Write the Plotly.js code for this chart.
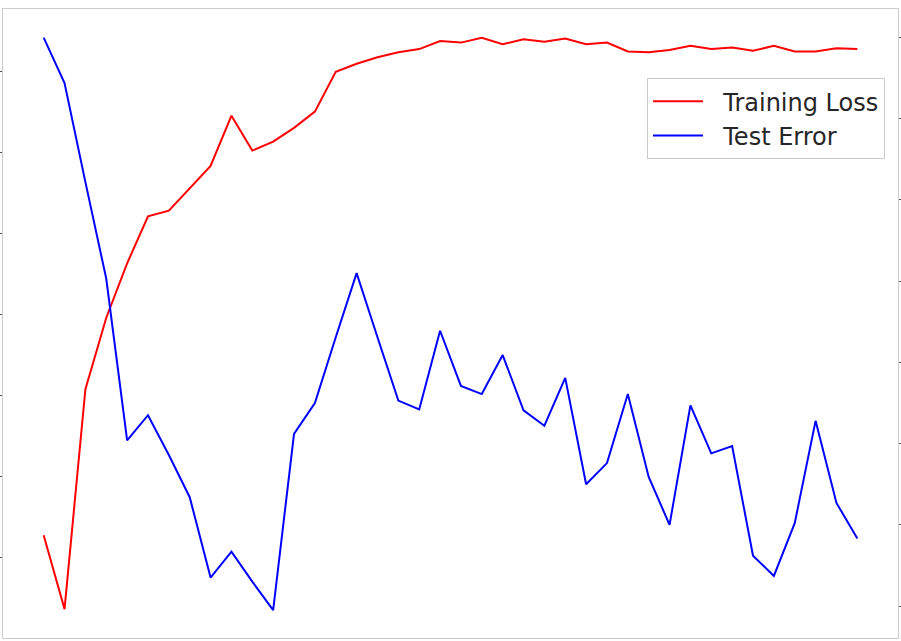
<!DOCTYPE html>
<html>
<head>
<meta charset="utf-8">
<script src="https://cdn.plot.ly/plotly-3.0.1.min.js"></script>
<style>html,body{margin:0;padding:0;background:#fff;}#chart{width:901px;height:641px;}</style>
</head>
<body>
<div id="chart"></div>
<script>
const epochs = Array.from({length: 40}, (_, i) => i);
const trainingLoss = [1.28,0.37,3.08,3.96,4.63,5.21,5.28,5.56,5.83,6.45,6.02,6.13,6.30,6.50,6.99,7.09,7.17,7.23,7.27,7.37,7.35,7.41,7.33,7.39,7.36,7.40,7.33,7.35,7.24,7.23,7.26,7.31,7.27,7.29,7.25,7.31,7.24,7.24,7.28,7.27];
const testError = [8.00,7.44,6.22,5.03,3.04,3.35,2.86,2.34,1.35,1.67,1.30,0.95,3.12,3.50,4.31,5.10,4.31,3.53,3.42,4.39,3.71,3.61,4.09,3.41,3.22,3.81,2.50,2.76,3.61,2.59,2.00,3.47,2.88,2.97,1.62,1.37,2.02,3.28,2.27,1.83];
const seriesNames = ["Training Loss", "Test Error"];
const gap = '\u00a0\u00a0';

const traces = [
  {x: epochs, y: trainingLoss, name: gap + seriesNames[0], type: 'scatter', mode: 'lines',
   line: {color: '#ff0000', width: 2}, yaxis: 'y'},
  {x: epochs, y: testError, name: gap + seriesNames[1], type: 'scatter', mode: 'lines',
   line: {color: '#0000ff', width: 2}, yaxis: 'y2'}
];

const layout = {
  width: 901, height: 641,
  margin: {l: 3, r: 3, t: 9, b: 3, pad: 0},
  paper_bgcolor: '#ffffff', plot_bgcolor: '#ffffff',
  font: {family: 'DejaVu Sans', color: '#262626'},
  showlegend: true,
  xaxis: {range: [-1.95, 40.95], showgrid: false, zeroline: false, showticklabels: false,
          ticks: '', showline: true, mirror: true, linecolor: '#cccccc', linewidth: 1},
  yaxis: {range: [0.014, 7.764], showgrid: false, zeroline: false, showticklabels: false,
          tickmode: 'linear', tick0: 1, dtick: 1, ticks: 'outside', ticklen: 3, tickcolor: '#555555',
          showline: true, linecolor: '#cccccc', linewidth: 1},
  yaxis2: {range: [0.606, 8.352], overlaying: 'y', side: 'right', showgrid: false, zeroline: false,
           showticklabels: false, tickmode: 'linear', tick0: 1, dtick: 1, ticks: 'outside', ticklen: 3,
           tickcolor: '#555555', showline: true, linecolor: '#cccccc', linewidth: 1},
  legend: {x: 0.9855, xanchor: 'right', y: 0.890, yanchor: 'top', itemwidth: 50,
           bgcolor: 'rgba(255,255,255,0.8)', bordercolor: '#cccccc', borderwidth: 1,
           font: {family: 'DejaVu Sans', size: 24, color: '#262626'}}
};

Plotly.newPlot('chart', traces, layout, {displayModeBar: false, staticPlot: true});
</script>
</body>
</html>
